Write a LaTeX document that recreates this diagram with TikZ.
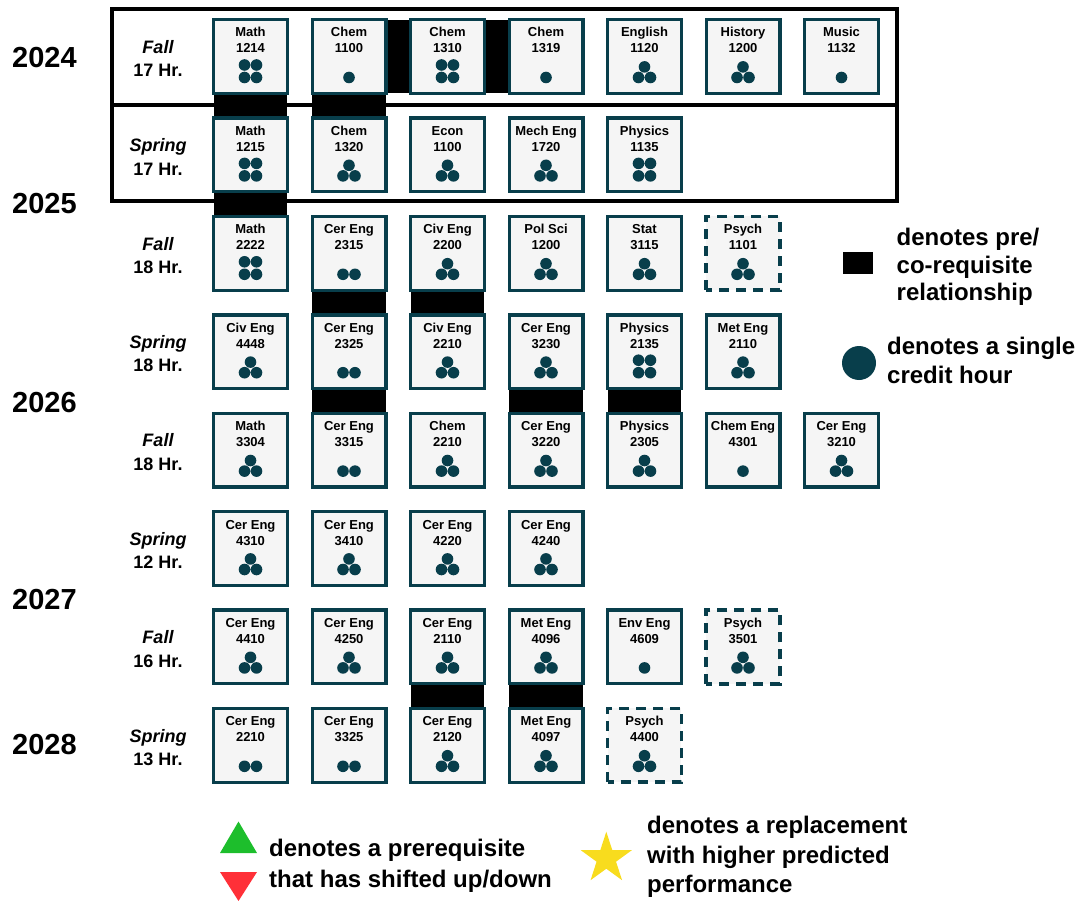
\documentclass[tikz,border=0pt]{standalone}
\usepackage{fontspec}
\setmainfont{Liberation Sans}
\usetikzlibrary{calc,shapes.geometric}

\definecolor{deepteal}{HTML}{083E4B}
\definecolor{boxfill}{HTML}{F5F5F5}
\definecolor{upgreen}{HTML}{1DBE2C}
\definecolor{downred}{HTML}{FF3038}
\definecolor{staryellow}{HTML}{F8DC1E}

\pgfdeclarelayer{back}
\pgfsetlayers{back,main}

\tikzset{
  course/.style={draw=deepteal, fill=boxfill, line width=3.3pt,
    minimum size=73.7pt, inner sep=0pt, outer sep=0pt},
  elective/.style={dash pattern=on 10pt off 7pt, dash phase=4pt, line width=3.6pt},
  ctext/.style={font=\bfseries\fontsize{13}{15}\selectfont, inner sep=0pt, anchor=base},
  term/.style={font=\bfseries\itshape\fontsize{18}{20}\selectfont, inner sep=0pt, anchor=base},
  hours/.style={font=\bfseries\fontsize{18}{20}\selectfont, inner sep=0pt, anchor=base},
  year/.style={font=\bfseries\fontsize{29}{32}\selectfont, inner sep=0pt, anchor=base},
  legend/.style={font=\bfseries\fontsize{24}{28}\selectfont, inner sep=0pt, anchor=base west},
  credit/.style={fill=deepteal},
  req/.style={fill=black},
  frame/.style={draw=black, line width=3.3pt},
}

% credit-hour dots below the course number
\newcommand\creditdots[2]{%
  \begin{scope}[shift={(#1.center)}]
  \ifcase#2\or
    \fill[credit] (0,21) circle[radius=5.8pt];
  \or
    \fill[credit] (-6,21) circle[radius=5.8pt] (6,21) circle[radius=5.8pt];
  \or
    \fill[credit] (0,10.4) circle[radius=5.8pt]
      (-6,21) circle[radius=5.8pt] (6,21) circle[radius=5.8pt];
  \or
    \fill[credit] (-6,8.5) circle[radius=5.8pt] (6,8.5) circle[radius=5.8pt]
      (-6,21) circle[radius=5.8pt] (6,21) circle[radius=5.8pt];
  \fi
  \end{scope}}

% [style] name, column, row, department, number, credits
\newcommand\coursebox[7][]{%
  \node[course,#1] (#2) at ({250.5+98.5*#3},{56.5+98.4*#4}) {};
  \node[ctext] (#2-dept) at ($(#2.center)+(0,-19.5)$) {#5};
  \node[ctext] (#2-num) at ($(#2.center)+(0,-3.5)$) {#6};
  \creditdots{#2}{#7}}

% name, row, season, hours
\newcommand\termlabel[4]{%
  \node[term] (#1) at (158,{18+98.4*#2+35.3}) {#3};
  \node[hours] (#1-hr) at (158,{18+98.4*#2+58.7}) {#4};}

\newcommand\reqdown[2]{\fill[req] (#1.south west) rectangle (#2.north east);}
\newcommand\reqright[2]{\fill[req] (#1.north east) rectangle (#2.south west);}

\begin{document}
\begin{tikzpicture}[x=1pt,y=-1pt]
\useasboundingbox (0,0) rectangle (1086,901);

% first-year frame
\draw[frame] (112,9) rectangle (897,201);
\draw[frame] (112,105) -- (897,105);

% years
\node[year] (y2024) at (44.5,68) {2024};
\node[year] (y2025) at (44.5,214) {2025};
\node[year] (y2026) at (44.5,412) {2026};
\node[year] (y2027) at (44.5,609) {2027};
\node[year] (y2028) at (44.5,754) {2028};

% terms
\termlabel{t0}{0}{Fall}{17 Hr.}
\termlabel{t1}{1}{Spring}{17 Hr.}
\termlabel{t2}{2}{Fall}{18 Hr.}
\termlabel{t3}{3}{Spring}{18 Hr.}
\termlabel{t4}{4}{Fall}{18 Hr.}
\termlabel{t5}{5}{Spring}{12 Hr.}
\termlabel{t6}{6}{Fall}{16 Hr.}
\termlabel{t7}{7}{Spring}{13 Hr.}

% Fall 2024
\coursebox{math1214}{0}{0}{Math}{1214}{4}
\coursebox{chem1100}{1}{0}{Chem}{1100}{1}
\coursebox{chem1310}{2}{0}{Chem}{1310}{4}
\coursebox{chem1319}{3}{0}{Chem}{1319}{1}
\coursebox{engl1120}{4}{0}{English}{1120}{3}
\coursebox{hist1200}{5}{0}{History}{1200}{3}
\coursebox{musc1132}{6}{0}{Music}{1132}{1}
% Spring 2025
\coursebox{math1215}{0}{1}{Math}{1215}{4}
\coursebox{chem1320}{1}{1}{Chem}{1320}{3}
\coursebox{econ1100}{2}{1}{Econ}{1100}{3}
\coursebox{me1720}{3}{1}{Mech Eng}{1720}{3}
\coursebox{phys1135}{4}{1}{Physics}{1135}{4}
% Fall 2025
\coursebox{math2222}{0}{2}{Math}{2222}{4}
\coursebox{ce2315}{1}{2}{Cer Eng}{2315}{2}
\coursebox{cv2200}{2}{2}{Civ Eng}{2200}{3}
\coursebox{pols1200}{3}{2}{Pol Sci}{1200}{3}
\coursebox{stat3115}{4}{2}{Stat}{3115}{3}
\coursebox[elective]{psyc1101}{5}{2}{Psych}{1101}{3}
% Spring 2026
\coursebox{cv4448}{0}{3}{Civ Eng}{4448}{3}
\coursebox{ce2325}{1}{3}{Cer Eng}{2325}{2}
\coursebox{cv2210}{2}{3}{Civ Eng}{2210}{3}
\coursebox{ce3230}{3}{3}{Cer Eng}{3230}{3}
\coursebox{phys2135}{4}{3}{Physics}{2135}{4}
\coursebox{mt2110}{5}{3}{Met Eng}{2110}{3}
% Fall 2026
\coursebox{math3304}{0}{4}{Math}{3304}{3}
\coursebox{ce3315}{1}{4}{Cer Eng}{3315}{2}
\coursebox{chem2210}{2}{4}{Chem}{2210}{3}
\coursebox{ce3220}{3}{4}{Cer Eng}{3220}{3}
\coursebox{phys2305}{4}{4}{Physics}{2305}{3}
\coursebox{che4301}{5}{4}{Chem Eng}{4301}{1}
\coursebox{ce3210}{6}{4}{Cer Eng}{3210}{3}
% Spring 2027
\coursebox{ce4310}{0}{5}{Cer Eng}{4310}{3}
\coursebox{ce3410}{1}{5}{Cer Eng}{3410}{3}
\coursebox{ce4220}{2}{5}{Cer Eng}{4220}{3}
\coursebox{ce4240}{3}{5}{Cer Eng}{4240}{3}
% Fall 2027
\coursebox{ce4410}{0}{6}{Cer Eng}{4410}{3}
\coursebox{ce4250}{1}{6}{Cer Eng}{4250}{3}
\coursebox{ce2110}{2}{6}{Cer Eng}{2110}{3}
\coursebox{mt4096}{3}{6}{Met Eng}{4096}{3}
\coursebox{env4609}{4}{6}{Env Eng}{4609}{1}
\coursebox[elective]{psyc3501}{5}{6}{Psych}{3501}{3}
% Spring 2028
\coursebox{ce2210}{0}{7}{Cer Eng}{2210}{2}
\coursebox{ce3325}{1}{7}{Cer Eng}{3325}{2}
\coursebox{ce2120}{2}{7}{Cer Eng}{2120}{3}
\coursebox{mt4097}{3}{7}{Met Eng}{4097}{3}
\coursebox[elective]{psyc4400}{4}{7}{Psych}{4400}{3}

% pre/co-requisite links behind the course boxes
\begin{pgfonlayer}{back}
  \reqright{chem1100}{chem1310}
  \reqright{chem1310}{chem1319}
  \reqdown{math1214}{math1215}
  \reqdown{chem1100}{chem1320}
  \reqdown{math1215}{math2222}
  \reqdown{ce2315}{ce2325}
  \reqdown{cv2200}{cv2210}
  \reqdown{ce2325}{ce3315}
  \reqdown{ce3230}{ce3220}
  \reqdown{phys2135}{phys2305}
  \reqdown{ce2110}{ce2120}
  \reqdown{mt4096}{mt4097}
\end{pgfonlayer}

% key: requisite bar and credit dot
\node[fill=black, minimum width=30pt, minimum height=22pt, inner sep=0pt] (reqkey) at (858,263) {};
\node[legend] (reqtxt1) at (896.5,245.7) {denotes pre/};
\node[legend] (reqtxt2) at (896.5,273.3) {co-requisite};
\node[legend] (reqtxt3) at (896.5,300.7) {relationship};

\node[circle, fill=deepteal, minimum size=34pt, inner sep=0pt] (creditkey) at (859,363) {};
\node[legend] (credtxt1) at (887,354) {denotes a single};
\node[legend] (credtxt2) at (887,383.3) {credit hour};

% key: shifted prerequisites and replacements
\fill[upgreen] (220,853) -- (257,853) -- (238.5,821.5) -- cycle;
\fill[downred] (220,872) -- (257,872) -- (238.5,901) -- cycle;
\node[legend] (shifttxt1) at (269,856.7) {denotes a prerequisite};
\node[legend] (shifttxt2) at (269,887.3) {that has shifted up/down};

\node[star, star points=5, star point ratio=2.618, fill=staryellow,
      minimum size=53.6pt, inner sep=0pt] (starkey) at (606.3,858.5) {};
\node[legend] (startxt1) at (647,833) {denotes a replacement};
\node[legend] (startxt2) at (647,863) {with higher predicted};
\node[legend] (startxt3) at (647,892) {performance};
\end{tikzpicture}
\end{document}
